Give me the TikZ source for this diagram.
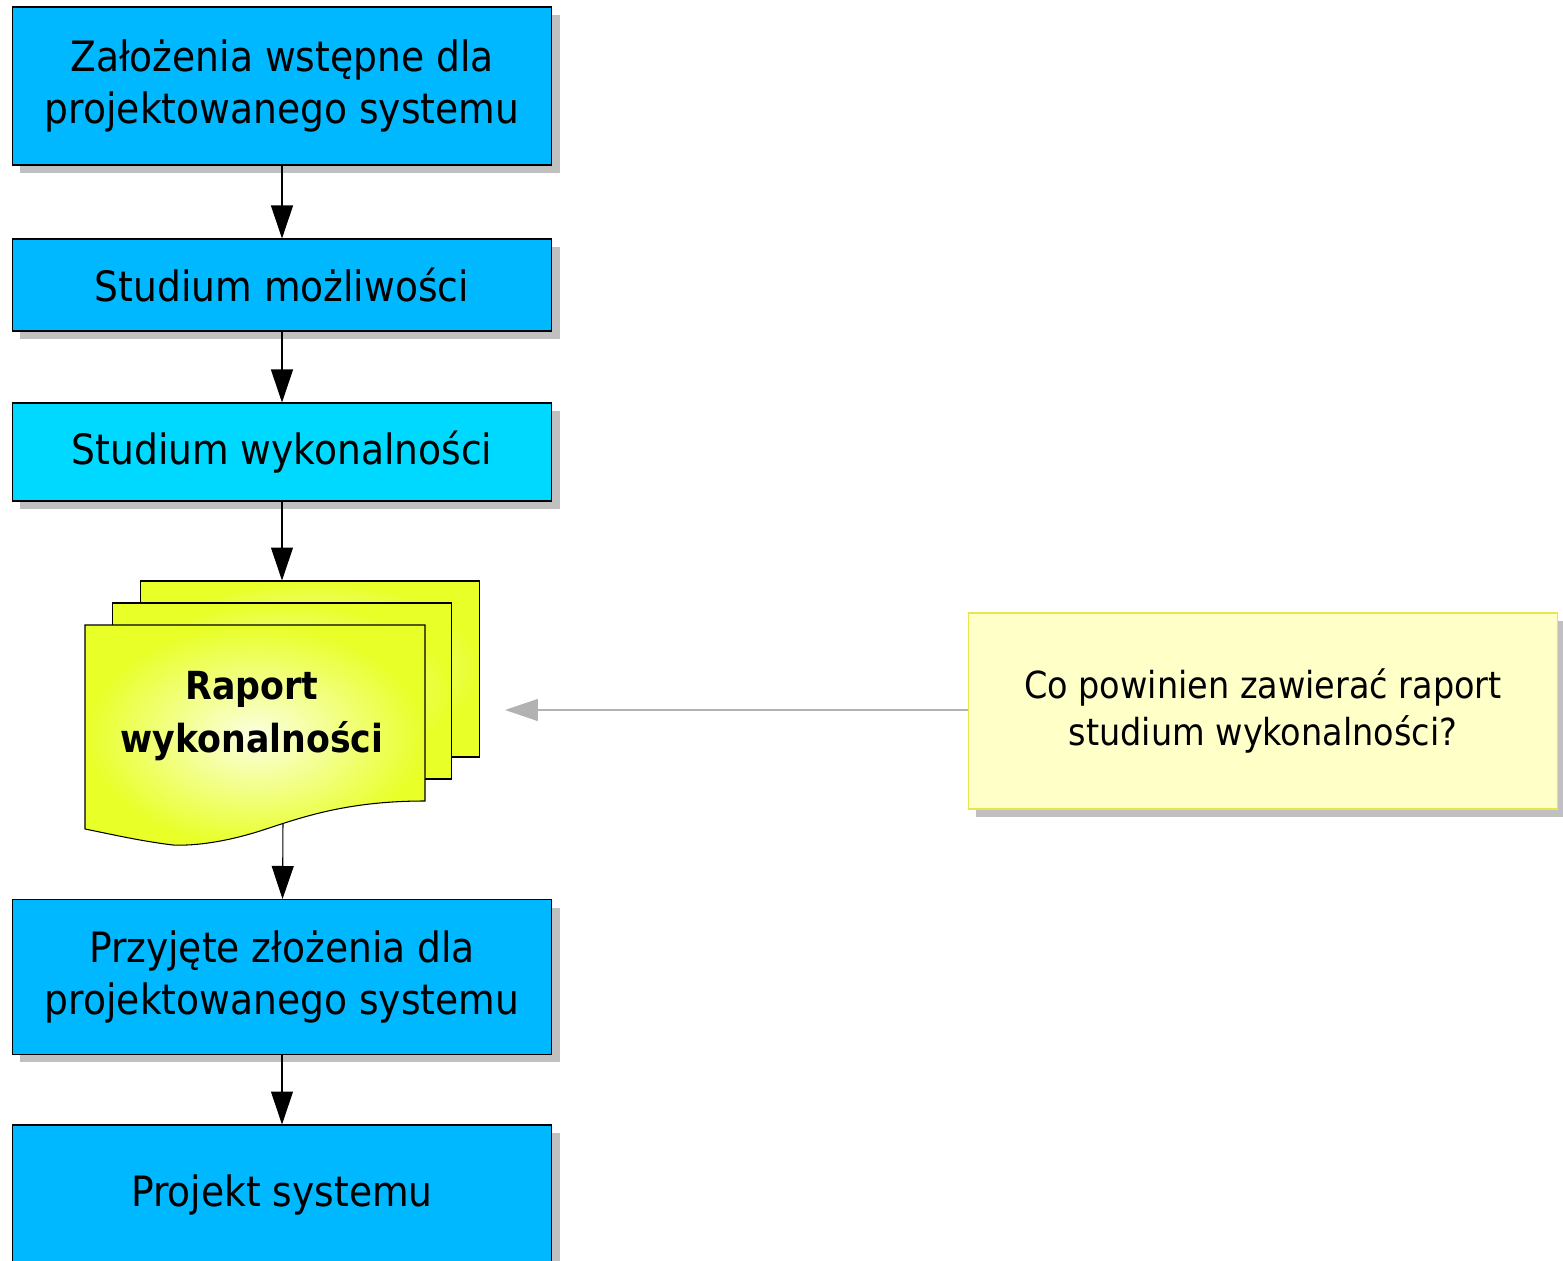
\documentclass[tikz,border=0pt]{standalone}
\usepackage{fontspec}
\setmainfont{DejaVu Sans Condensed}
\usetikzlibrary{arrows.meta,shadows}

\definecolor{boxblue}{RGB}{0,184,255}
\definecolor{boxcyan}{RGB}{0,217,255}
\definecolor{shadowgray}{RGB}{192,192,192}
\definecolor{notefill}{RGB}{255,255,200}
\definecolor{noteline}{RGB}{230,230,80}
\definecolor{hintgray}{RGB}{178,178,178}
\definecolor{sheetin}{RGB}{252,255,225}
\definecolor{sheetout}{RGB}{232,255,40}

\begin{document}
\begin{tikzpicture}[x=0.02cm, y=-0.02cm, line width=0.6pt,
  procbox/.style={draw, fill=boxblue, minimum width=10.8cm, align=center,
    font=\fontsize{23.8}{30}\selectfont,
    drop shadow={shadow xshift=0.16cm, shadow yshift=-0.16cm, fill=shadowgray, opacity=1}},
  sheet/.style={draw, inner color=sheetin, outer color=sheetout},
  notebox/.style={draw=noteline, fill=notefill, minimum width=11.8cm, minimum height=3.92cm,
    align=center, font=\fontsize{21.2}{26.6}\selectfont,
    drop shadow={shadow xshift=0.16cm, shadow yshift=-0.16cm, fill=shadowgray, opacity=1}},
  flow/.style={-{Triangle[length=0.66cm,width=0.44cm]}},
  hint/.style={draw=hintgray, -{Triangle[length=0.66cm,width=0.44cm]}, line width=0.8pt}]
  \clip (0,0) rectangle (1563,1261);

  \node[procbox, minimum height=3.16cm] (zal) at (282,86) {Założenia wstępne dla\\projektowanego systemu};
  \node[procbox, minimum height=1.84cm] (moz) at (282,285) {Studium możliwości};
  \node[procbox, fill=boxcyan, minimum height=1.96cm] (wyk) at (282,452) {Studium wykonalności};

  % stos dokumentow
  \node[sheet, minimum width=6.8cm, minimum height=3.52cm] (docA) at (310,669) {};
  \node[sheet, minimum width=6.8cm, minimum height=3.52cm] (docB) at (282,691) {};
  \draw[sheet] (85,625) -- (425,625) -- (425,801)
    .. controls (345,801) and (300,818) .. (260,831)
    .. controls (225,842) and (195,846) .. (173,845)
    .. controls (140,841) and (110,834) .. (85,829) -- cycle;
  \node[align=center, font=\fontsize{22}{30}\selectfont\bfseries] (raport) at (252,716) {Raport\\wykonalności};
  \coordinate (raportout) at (283,823);

  \node[procbox, minimum height=3.1cm] (przy) at (282,977) {Przyjęte złożenia dla\\projektowanego systemu};
  \node[procbox, minimum height=2.8cm] (proj) at (282,1195) {Projekt systemu};

  \node[notebox] (note) at (1263,711) {Co powinien zawierać raport\\studium wykonalności?};
  \coordinate (notetip) at (505,710);

  \draw[flow] (zal) -- (moz);
  \draw[flow] (moz) -- (wyk);
  \draw[flow] (wyk.south) -- (wyk.south |- docA.north);
  \draw[flow] (raportout) -- (przy);
  \draw[flow] (przy) -- (proj);
  \draw[hint] (note.west |- notetip) -- (notetip);
\end{tikzpicture}
\end{document}
